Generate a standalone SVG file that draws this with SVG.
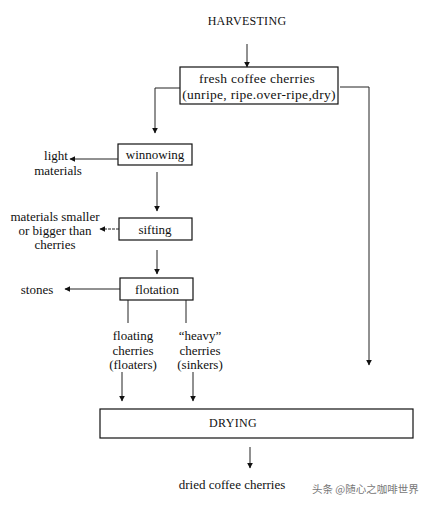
<svg xmlns="http://www.w3.org/2000/svg" width="434" height="505" viewBox="0 0 434 505">
<defs>
<marker id="ah" viewBox="0 0 10 10" refX="9" refY="5" markerWidth="6" markerHeight="6" markerUnits="userSpaceOnUse" orient="auto">
<path d="M0,0 L10,5 L0,10 z" fill="#111"/>
</marker>
<style>
text{font-family:"Liberation Serif","Times New Roman",serif;fill:#111;font-size:13px;text-anchor:middle}
.box{fill:#fff;stroke:#111;stroke-width:1.2}
.ln{fill:none;stroke:#222;stroke-width:1}
.ar{fill:none;stroke:#222;stroke-width:1;marker-end:url(#ah)}
.cap{font-size:12px;letter-spacing:0.3px}
.big{font-size:13.5px;letter-spacing:0.3px}
.wm{font-family:"Noto Sans CJK SC",sans-serif;fill:#777;font-size:10.5px;text-anchor:start}
</style>
</defs>
<rect width="434" height="505" fill="#fff"/>
<g id="harvesting"><text class="cap" x="247" y="25">HARVESTING</text></g>
<g id="fresh">
<rect class="box" x="180" y="67" width="158" height="37"/>
<text class="big" x="257" y="83">fresh coffee cherries</text>
<text class="big" x="259" y="99">(unripe, ripe.over-ripe,dry)</text>
</g>
<g id="winnowing">
<rect class="box" x="118" y="144" width="74" height="21"/>
<text x="155" y="159">winnowing</text>
</g>
<g id="light"><text x="56" y="160">light</text><text x="58" y="175">materials</text></g>
<g id="sifting">
<rect class="box" x="119" y="218" width="73" height="22"/>
<text x="155" y="234">sifting</text>
</g>
<g id="smaller"><text x="55" y="221">materials smaller</text><text x="55" y="235">or bigger than</text><text x="55" y="249">cherries</text></g>
<g id="flotation">
<rect class="box" x="120" y="278" width="73" height="22"/>
<text x="157" y="294">flotation</text>
</g>
<g id="stones"><text x="37" y="294">stones</text></g>
<g id="floaters"><text x="133" y="340">floating</text><text x="133" y="355">cherries</text><text x="133" y="369">(floaters)</text></g>
<g id="sinkers"><text x="200" y="340">“heavy”</text><text x="200" y="355">cherries</text><text x="200" y="369">(sinkers)</text></g>
<g id="drying">
<rect class="box" x="100" y="409" width="313" height="29"/>
<text class="cap" x="233" y="427">DRYING</text>
</g>
<g id="dried"><text x="232" y="489">dried coffee cherries</text></g>
<g id="connectors">
<line class="ar" x1="247" y1="44" x2="247" y2="67"/>
<polyline class="ar" points="180,88 155,88 155,133"/>
<polyline class="ar" points="340,87 369,87 369,365"/>
<line class="ar" x1="118" y1="159" x2="70" y2="159"/>
<line class="ar" x1="157" y1="172" x2="157" y2="211"/>
<line class="ar" x1="119" y1="229" x2="100" y2="229" stroke-dasharray="3,1"/>
<line class="ar" x1="157" y1="250" x2="157" y2="274"/>
<line class="ar" x1="120" y1="289" x2="65" y2="289"/>
<line class="ln" x1="128" y1="300" x2="128" y2="323"/>
<line class="ln" x1="186" y1="300" x2="186" y2="323"/>
<line class="ar" x1="122" y1="372" x2="122" y2="401"/>
<line class="ar" x1="193" y1="372" x2="193" y2="401"/>
<line class="ar" x1="250" y1="447" x2="250" y2="468"/>
</g>
<g id="watermark"><text class="wm" x="312" y="493">头条 @随心之咖啡世界</text></g>
</svg>
